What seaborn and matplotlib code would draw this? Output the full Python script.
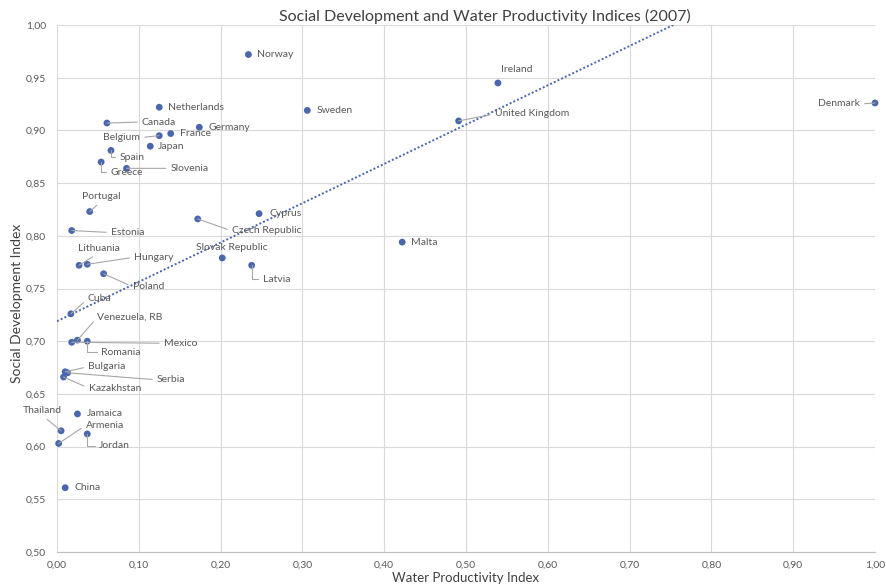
import matplotlib
matplotlib.use("Agg")
import matplotlib.pyplot as plt
import seaborn as sns
import pandas as pd
from matplotlib.ticker import FuncFormatter

# ---- data -------------------------------------------------------------
countries = [
    "Norway", "Ireland", "United Kingdom", "Sweden", "Netherlands", "Germany",
    "France", "Belgium", "Japan", "Canada", "Spain", "Greece", "Slovenia",
    "Portugal", "Estonia", "Lithuania", "Hungary", "Czech Republic", "Cyprus",
    "Slovak Republic", "Latvia", "Malta", "Denmark", "Poland", "Cuba",
    "Venezuela, RB", "Mexico", "Romania", "Bulgaria", "Serbia", "Kazakhstan",
    "Thailand", "Jamaica", "Armenia", "Jordan", "China",
]
water_productivity = [
    0.234, 0.539, 0.491, 0.306, 0.125, 0.174,
    0.139, 0.125, 0.114, 0.061, 0.066, 0.054, 0.085,
    0.040, 0.018, 0.027, 0.037, 0.172, 0.247,
    0.202, 0.238, 0.422, 1.000, 0.057, 0.017,
    0.025, 0.018, 0.037, 0.010, 0.013, 0.008,
    0.005, 0.025, 0.002, 0.037, 0.010,
]
social_development = [
    0.972, 0.945, 0.909, 0.919, 0.922, 0.903,
    0.897, 0.895, 0.885, 0.907, 0.881, 0.870, 0.864,
    0.823, 0.805, 0.772, 0.773, 0.816, 0.821,
    0.779, 0.772, 0.794, 0.926, 0.764, 0.726,
    0.701, 0.699, 0.700, 0.671, 0.670, 0.666,
    0.615, 0.631, 0.603, 0.612, 0.561,
]

# linear trend line (intercept, slope)
trend_intercept = 0.719
trend_slope = 0.373

x_ticks = [0.0, 0.1, 0.2, 0.3, 0.4, 0.5, 0.6, 0.7, 0.8, 0.9, 1.0]
y_ticks = [0.50, 0.55, 0.60, 0.65, 0.70, 0.75, 0.80, 0.85, 0.90, 0.95, 1.00]

title = "Social Development and Water Productivity Indices (2007)"
x_title = "Water Productivity Index"
y_title = "Social Development Index"

df = pd.DataFrame({"country": countries,
                   "water": water_productivity,
                   "social": social_development})

# label placement: offset in pixels, alignment, leader style
label_layout = {
    "Norway": (9, 0, "left", None),
    "Ireland": (3, 13, "left", None),
    "United Kingdom": (36, 7, "left", "line"),
    "Sweden": (9, 0, "left", None),
    "Netherlands": (9, 0, "left", None),
    "Germany": (9, 0, "left", None),
    "France": (9, 0, "left", None),
    "Belgium": (-19, -2, "right", "line"),
    "Japan": (8, 0, "left", None),
    "Canada": (35, 1, "left", "line"),
    "Spain": (9, -7, "left", "elbow"),
    "Greece": (9, -10, "left", "elbow"),
    "Slovenia": (44, 0, "left", "line"),
    "Portugal": (12, 15, "center", "line"),
    "Estonia": (39, -2, "left", "line"),
    "Lithuania": (20, 17, "center", "line"),
    "Hungary": (47, 7, "left", "line"),
    "Czech Republic": (34, -12, "left", "line"),
    "Cyprus": (10, 0, "left", None),
    "Slovak Republic": (10, 10, "center", None),
    "Latvia": (11, -14, "left", "elbow"),
    "Malta": (9, 0, "left", None),
    "Denmark": (-15, -1, "right", "line"),
    "Poland": (29, -13, "left", "line"),
    "Cuba": (17, 15, "left", "line"),
    "Venezuela, RB": (20, 23, "left", "line"),
    "Mexico": (92, -1, "left", "line"),
    "Romania": (14, -11, "left", "elbow"),
    "Bulgaria": (23, 5, "left", "line"),
    "Serbia": (89, -7, "left", "line"),
    "Kazakhstan": (25, -11, "left", "line"),
    "Thailand": (-19, 20, "center", "line"),
    "Jamaica": (9, 0, "left", None),
    "Armenia": (27, 18, "left", "line"),
    "Jordan": (12, -12, "left", "elbow"),
    "China": (9, 0, "left", None),
}

# ---- style ------------------------------------------------------------
sns.set_style("white")
plt.rcParams["font.family"] = ["Lato", "DejaVu Sans"]

point_color = "#4a66ac"
text_color = "#595959"
grid_color = "#d9d9d9"

fig = plt.figure(figsize=(8.87, 5.87), dpi=100)
ax = fig.add_axes([57 / 887, 35 / 587, 818 / 887, 527 / 587])

ax.set_xlim(0, 1.0)
ax.set_ylim(0.5, 1.0)

# dotted linear trend line
ax.axline((0, trend_intercept), slope=trend_slope, color=point_color, lw=1.4,
          linestyle=(0, (1, 1.1)), zorder=2)

sns.scatterplot(data=df, x="water", y="social", color=point_color, s=24,
                edgecolor="none", ax=ax, zorder=4, clip_on=False)

for name, xv, yv in zip(df["country"], df["water"], df["social"]):
    dx, dy, ha, leader = label_layout[name]
    arrow = None
    if leader is not None:
        if ha == "left":
            rel = (0, 0.5)
        elif ha == "right":
            rel = (1, 0.5)
        else:
            rel = (0.5, 0) if dy > 0 else (0.5, 1)
        conn = "angle,angleA=0,angleB=90,rad=0" if leader == "elbow" else "arc3"
        arrow = dict(arrowstyle="-", color="#a6a6a6", lw=0.8, shrinkA=1,
                     shrinkB=0, relpos=rel, connectionstyle=conn)
    ax.annotate(name, xy=(xv, yv), xytext=(dx, dy), textcoords="offset pixels",
                ha=ha, va="center", fontsize=7.5, color=text_color,
                arrowprops=arrow, zorder=5, annotation_clip=False)

ax.set_xlim(0, 1.0)
ax.set_ylim(0.5, 1.0)
ax.set_xticks(x_ticks)
ax.set_yticks(y_ticks)
fmt = FuncFormatter(lambda v, _: f"{v:.2f}".replace(".", ","))
ax.xaxis.set_major_formatter(fmt)
ax.yaxis.set_major_formatter(fmt)
ax.tick_params(axis="both", length=0, labelsize=7.5, labelcolor=text_color)
ax.tick_params(axis="x", pad=6)
ax.tick_params(axis="y", pad=8)
ax.set_xlabel("")
ax.set_ylabel("")
ax.grid(True, color=grid_color, lw=0.8)
ax.set_axisbelow(True)
for side in ("top", "right", "left"):
    ax.spines[side].set_visible(False)
ax.spines["bottom"].set_color("#bfbfbf")
ax.spines["bottom"].set_linewidth(0.8)

fig.text(485 / 887, 1 - 16 / 587, title, ha="center", va="center",
         fontsize=11.5, color="#404040")
fig.text(466 / 887, 1 - 578 / 587, x_title, ha="center", va="center",
         fontsize=9.5, color="#404040")
fig.text(17 / 887, 1 - 303 / 587, y_title, ha="center", va="center",
         rotation=90, fontsize=10, color="#404040")

fig.savefig("out.png", dpi=100)
